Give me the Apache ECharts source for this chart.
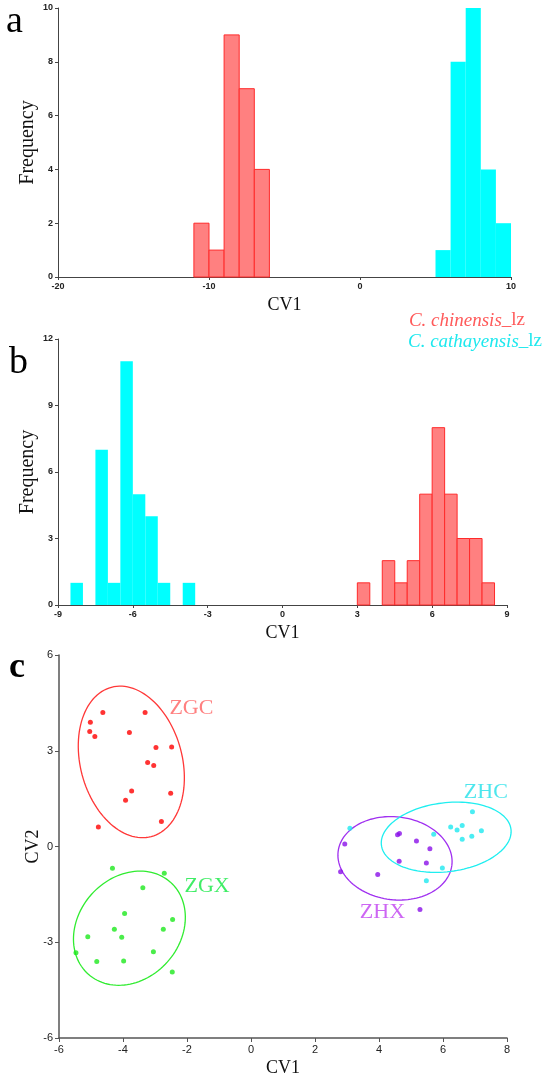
<!DOCTYPE html>
<html>
<head>
<meta charset="utf-8">
<script src="https://cdn.jsdelivr.net/npm/echarts@6/dist/echarts.min.js"></script>
<style>
  html, body { margin: 0; padding: 0; background: #fff; }
  #main { width: 550px; height: 1081px; }
</style>
</head>
<body>
<div id="main"></div>
<script>
// panel a: histogram, bin width 1
var aRedStart = [-11, -10, -9, -8, -7];
var aRedCount = [2, 1, 9, 7, 4];
var aCyanStart = [5, 6, 7, 8, 9];
var aCyanCount = [1, 8, 10, 4, 2];

// panel b: histogram, bin width 0.5
var bCyanStart = [-8.5, -7.5, -7, -6.5, -6, -5.5, -5, -4];
var bCyanCount = [1, 7, 1, 11, 5, 4, 1, 1];
var bRedStart = [3, 4, 4.5, 5, 5.5, 6, 6.5, 7, 7.5, 8];
var bRedCount = [1, 2, 1, 2, 5, 8, 5, 3, 3, 1];

// panel c: CV1 / CV2 scores
var zgc = [[-4.63, 4.20], [-5.02, 3.89], [-5.04, 3.60], [-4.88, 3.45], [-3.31, 4.20],
           [-3.80, 3.57], [-2.97, 3.10], [-2.48, 3.12], [-3.23, 2.63], [-3.04, 2.54],
           [-3.73, 1.74], [-3.92, 1.45], [-2.51, 1.67], [-2.80, 0.78], [-4.77, 0.61]];
var zgx = [[-4.33, -0.68], [-2.71, -0.84], [-3.38, -1.29], [-3.95, -2.10], [-2.45, -2.29],
           [-4.27, -2.59], [-2.74, -2.59], [-5.10, -2.83], [-4.04, -2.84], [-5.47, -3.33],
           [-3.05, -3.30], [-4.82, -3.60], [-3.98, -3.59], [-2.46, -3.93]];
var zhx = [[4.64, 0.41], [4.58, 0.37], [2.93, 0.08], [5.17, 0.17], [5.59, -0.07],
           [4.63, -0.46], [5.48, -0.52], [2.80, -0.79], [3.96, -0.88], [5.28, -1.97]];
var zhc = [[3.09, 0.57], [6.92, 1.09], [6.24, 0.61], [6.44, 0.52], [6.60, 0.66],
           [7.20, 0.49], [6.90, 0.32], [6.60, 0.23], [5.71, 0.38], [5.98, -0.67], [5.48, -1.07]];

// ellipses: centre x, centre y, semi-major, semi-minor, angle (deg)
var ellZgc = [-3.74, 2.65, 2.42, 1.59, -75.1];
var ellZgx = [-3.80, -2.56, 1.93, 1.59, 48.4];
var ellZhx = [4.50, -0.37, 1.79, 1.30, -6.8];
var ellZhc = [6.10, 0.29, 2.04, 1.08, 7.0];

var groupNames = ['ZGC', 'ZGX', 'ZHX', 'ZHC'];
var groupLabelAt = [[-2.55, 4.34], [-2.08, -1.24], [3.40, -2.06], [6.65, 1.71]];

var RED = '#ff0000', GREEN = '#1de81d', PURPLE = '#8a10e8', CYAN = '#1ee8f0';
var serif = 'Liberation Serif, Times New Roman, serif';
var sans = 'Liberation Sans, Arial, sans-serif';

function zip(a, b) {
  var out = [];
  for (var i = 0; i < a.length; i++) out.push([a[i], b[i]]);
  return out;
}

function histSeries(idx, starts, counts, w, fill, stroke) {
  return {
    type: 'custom',
    xAxisIndex: idx,
    yAxisIndex: idx,
    data: zip(starts, counts),
    encode: { x: 0, y: 1 },
    renderItem: function (params, api) {
      var x0 = api.value(0), c = api.value(1);
      var p0 = api.coord([x0, 0]);
      var p1 = api.coord([x0 + w, c]);
      return {
        type: 'rect',
        shape: { x: p0[0], y: p1[1], width: p1[0] - p0[0], height: p0[1] - p1[1] },
        style: { fill: fill, stroke: stroke, lineWidth: stroke ? 1 : 0 }
      };
    }
  };
}

function ellipseSeries(e, color) {
  return {
    type: 'custom',
    xAxisIndex: 2,
    yAxisIndex: 2,
    silent: true,
    data: [e],
    renderItem: function (params, api) {
      var cx = api.value(0), cy = api.value(1), a = api.value(2), b = api.value(3);
      var phi = api.value(4) * Math.PI / 180;
      var pts = [];
      for (var k = 0; k <= 120; k++) {
        var t = k / 120 * Math.PI * 2;
        var x = cx + a * Math.cos(t) * Math.cos(phi) - b * Math.sin(t) * Math.sin(phi);
        var y = cy + a * Math.cos(t) * Math.sin(phi) + b * Math.sin(t) * Math.cos(phi);
        pts.push(api.coord([x, y]));
      }
      return { type: 'polyline', shape: { points: pts }, style: { fill: null, stroke: color, lineWidth: 1.3 } };
    }
  };
}

function scatterSeries(pts, color) {
  return {
    type: 'scatter', xAxisIndex: 2, yAxisIndex: 2,
    symbolSize: 5, itemStyle: { color: color }, data: pts, z: 3
  };
}

var labelColors = ['#ff6060', '#10e840', '#c040f0', '#20e0e8'];
var labelData = groupNames.map(function (n, i) {
  return { name: n, value: groupLabelAt[i], label: { color: labelColors[i] } };
});

function axisCommon(extra) {
  var o = {
    type: 'value',
    splitLine: { show: false },
    axisLine: { show: true, onZero: false, lineStyle: { color: '#444', width: 1 } },
    axisTick: { show: true, length: 3, lineStyle: { color: '#444' } },
    axisLabel: { color: '#222', fontSize: 9, fontWeight: 'bold', fontFamily: sans, margin: 5 },
    nameLocation: 'middle',
    nameMoveOverlap: false,
    nameTextStyle: { fontFamily: serif, fontSize: 18, color: '#111' }
  };
  for (var k in extra) o[k] = extra[k];
  return o;
}

var cLine = { show: true, onZero: false, lineStyle: { color: '#555', width: 1.5 } };
var cLabel = { color: '#222', fontSize: 11, fontFamily: sans, margin: 6 };
var freqName = { fontFamily: serif, fontSize: 20, color: '#111' };

var option = {
  backgroundColor: '#fff',
  animation: false,
  grid: [
    { left: 58, right: 39, top: 8, height: 269 },
    { left: 58, right: 43, top: 339, height: 266 },
    { left: 59, right: 43, top: 655, height: 383 }
  ],
  xAxis: [
    axisCommon({ gridIndex: 0, min: -20, max: 10, interval: 10, name: 'CV1', nameGap: 19 }),
    axisCommon({ gridIndex: 1, min: -9, max: 9, interval: 3, name: 'CV1', nameGap: 19 }),
    axisCommon({ gridIndex: 2, min: -6, max: 8, interval: 2, name: 'CV1', nameGap: 21,
      axisLine: cLine, axisTick: { show: true, length: 4, lineStyle: { color: '#555' } }, axisLabel: cLabel })
  ],
  yAxis: [
    axisCommon({ gridIndex: 0, min: 0, max: 10, interval: 2, name: 'Frequency', nameGap: 20, nameTextStyle: freqName }),
    axisCommon({ gridIndex: 1, min: 0, max: 12, interval: 3, name: 'Frequency', nameGap: 20, nameTextStyle: freqName }),
    axisCommon({ gridIndex: 2, min: -6, max: 6, interval: 3, name: 'CV2', nameGap: 17,
      axisLine: cLine, axisTick: { show: true, length: 4, lineStyle: { color: '#555' } }, axisLabel: cLabel })
  ],
  series: [
    histSeries(0, aRedStart, aRedCount, 1, '#ff8080', '#ff2a2a'),
    histSeries(0, aCyanStart, aCyanCount, 1, '#00ffff', null),
    histSeries(1, bCyanStart, bCyanCount, 0.5, '#00ffff', null),
    histSeries(1, bRedStart, bRedCount, 0.5, '#ff8080', '#ff2a2a'),
    ellipseSeries(ellZgc, '#ff3838'),
    ellipseSeries(ellZgx, '#30ec30'),
    ellipseSeries(ellZhx, '#a030f0'),
    ellipseSeries(ellZhc, '#20eef0'),
    scatterSeries(zgc, RED),
    scatterSeries(zgx, GREEN),
    scatterSeries(zhx, PURPLE),
    scatterSeries(zhc, CYAN),
    {
      type: 'scatter', xAxisIndex: 2, yAxisIndex: 2, symbolSize: 0, silent: true,
      data: labelData,
      label: { show: true, position: 'right', distance: 0, formatter: '{b}', fontFamily: serif, fontSize: 22 }
    }
  ],
  graphic: [
    { type: 'text', left: 6, top: 3, style: { text: 'a', font: '38px ' + serif, fill: '#000' } },
    { type: 'text', left: 9, top: 344, style: { text: 'b', font: '38px ' + serif, fill: '#000' } },
    { type: 'text', left: 9, top: 650, style: { text: 'c', font: 'bold 36px ' + serif, fill: '#000' } },
    {
      type: 'text', right: 25, top: 311,
      style: {
        text: '{i|C. chinensis}{n|_lz}',
        rich: {
          i: { fontFamily: serif, fontStyle: 'italic', fontSize: 19, fill: '#ff5a5a' },
          n: { fontFamily: serif, fontSize: 19, fill: '#ff5a5a' }
        }
      }
    },
    {
      type: 'text', right: 8, top: 332,
      style: {
        text: '{i|C. cathayensis}{n|_lz}',
        rich: {
          i: { fontFamily: serif, fontStyle: 'italic', fontSize: 19, fill: '#1ee8ee' },
          n: { fontFamily: serif, fontSize: 19, fill: '#1ee8ee' }
        }
      }
    }
  ]
};

var chart = echarts.init(document.getElementById('main'));
chart.setOption(option);
</script>
</body>
</html>
